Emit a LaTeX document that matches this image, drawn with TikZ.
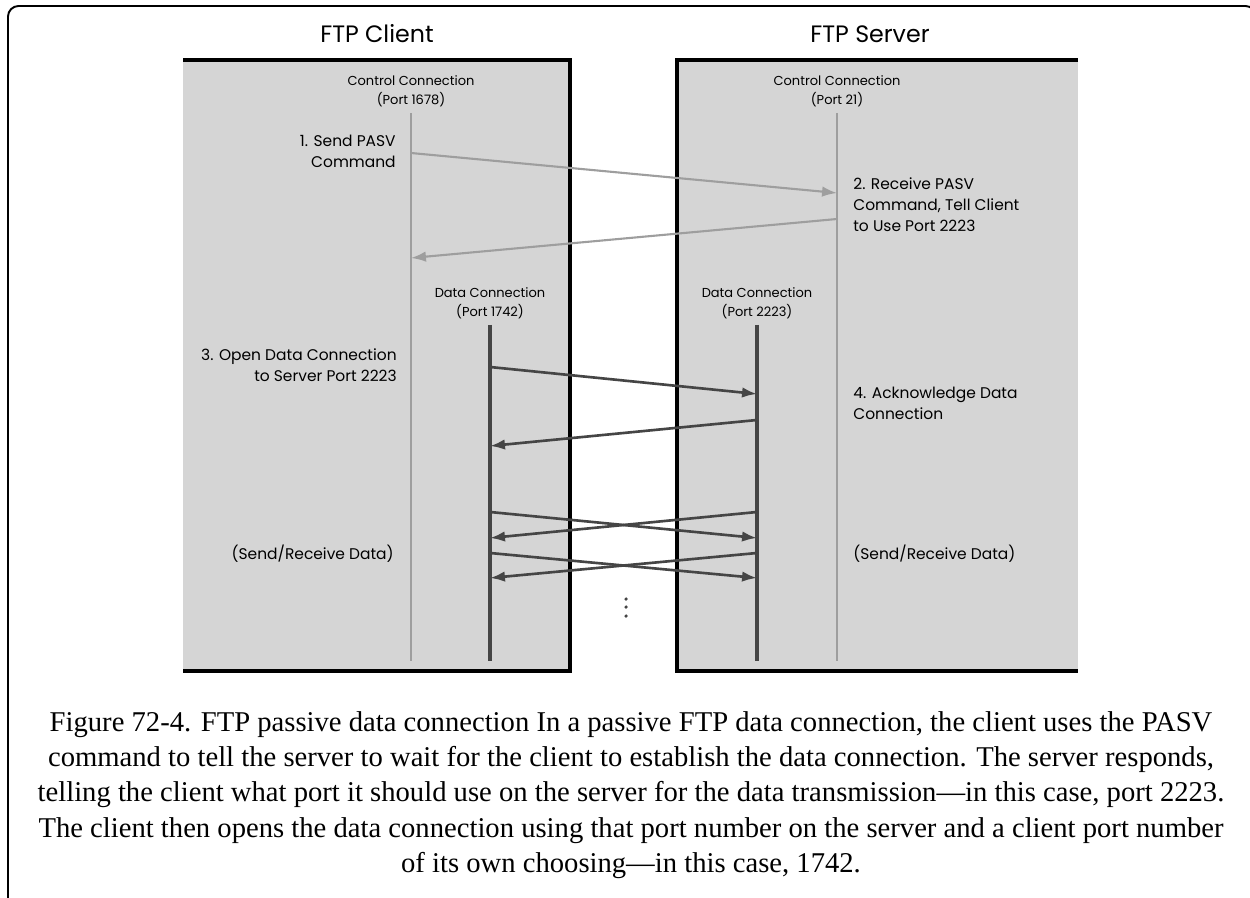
\documentclass[tikz,border=0pt]{standalone}
\usepackage{fontspec}
\setmainfont{Liberation Serif}
\newfontfamily\figfont{Poppins}
\usepackage{xcolor}
\definecolor{cBox}{HTML}{D5D5D5}
\definecolor{cCtrl}{HTML}{9E9E9E}
\definecolor{cData}{HTML}{454545}
\usetikzlibrary{positioning,arrows.meta}
\tikzset{
  side-box/.style={fill=cBox,draw=none},
  box-edge/.style={line width=2.3pt,draw=black},
  life-ctrl/.style={line width=1.4pt,draw=cCtrl},
  life-data/.style={line width=2pt,draw=cData},
  msg-ctrl/.style={-{Latex[length=8.5pt,width=6pt]},line width=1.2pt,draw=cCtrl},
  msg-data/.style={-{Latex[length=8.5pt,width=6pt]},line width=1.5pt,draw=cData},
  side-title/.style={font=\figfont\fontsize{13.5}{15}\selectfont,inner sep=0pt},
  port-lbl/.style={font=\figfont\fontsize{7.4}{11.3}\selectfont,align=center,inner sep=0pt},
  step-lbl/.style={font=\figfont\fontsize{8.8}{12}\selectfont,inner sep=0pt},
  fig-caption/.style={font=\fontsize{16.3}{20.1}\selectfont,align=center,inner sep=0pt},
}

\begin{document}
\begin{tikzpicture}[x=0.02cm,y=-0.02cm]
  \useasboundingbox (0,0) rectangle (1250,898);
  \clip (0,0) rectangle (1250,898);
  % outer frame
  \draw[line width=1.1pt,rounded corners=6pt] (8,920) |- (1256,6) -- (1256,40);
  % client and server boxes
  \fill[side-box] (183,60) rectangle (570,671);
  \draw[box-edge] (183,60) -| (570,671) -- (183,671);
  \fill[side-box] (677,60) rectangle (1078,671);
  \draw[box-edge] (1078,60) -| (677,671) -- (1078,671);
  \node[side-title] (client) at (377,34) {FTP Client};
  \node[side-title] (server) at (870,34) {FTP Server};
  % lifelines
  \coordinate (cc-top) at (411,113);
  \coordinate (cc-bot) at (411,661);
  \coordinate (sc-top) at (837,113);
  \coordinate (sc-bot) at (837,661);
  \coordinate (cd-top) at (490,325);
  \coordinate (cd-bot) at (490,661);
  \coordinate (sd-top) at (757,325);
  \coordinate (sd-bot) at (757,661);
  \draw[life-ctrl] (cc-top) -- (cc-bot);
  \draw[life-ctrl] (sc-top) -- (sc-bot);
  \draw[life-data] (cd-top) -- (cd-bot);
  \draw[life-data] (sd-top) -- (sd-bot);
  \node[port-lbl,above=3pt of cc-top] (cc-lbl) {Control Connection\\(Port 1678)};
  \node[port-lbl,above=3pt of sc-top] (sc-lbl) {Control Connection\\(Port 21)};
  \node[port-lbl,above=3pt of cd-top] (cd-lbl) {Data Connection\\(Port 1742)};
  \node[port-lbl,above=3pt of sd-top] (sd-lbl) {Data Connection\\(Port 2223)};
  % message end points
  \coordinate (pasv-out) at (cc-top |- 0,153);
  \coordinate (pasv-in)  at (sc-top |- 0,193);
  \coordinate (port-out) at (sc-top |- 0,219);
  \coordinate (port-in)  at (cc-top |- 0,258);
  \coordinate (open-out) at (cd-top |- 0,367);
  \coordinate (open-in)  at (sd-top |- 0,394);
  \coordinate (ack-out)  at (sd-top |- 0,420);
  \coordinate (ack-in)   at (cd-top |- 0,446);
  \draw[msg-ctrl] (pasv-out) -- (pasv-in);
  \draw[msg-ctrl] (port-out) -- (port-in);
  \draw[msg-data] (open-out) -- (open-in);
  \draw[msg-data] (ack-out) -- (ack-in);
  \foreach \k/\ya/\yb in {a/512/538,b/553/578} {
    \coordinate (cs-\k) at (cd-top |- 0,\ya);
    \coordinate (ce-\k) at (sd-top |- 0,\yb);
    \coordinate (ss-\k) at (sd-top |- 0,\ya);
    \coordinate (se-\k) at (cd-top |- 0,\yb);
    \draw[msg-data] (cs-\k) -- (ce-\k);
    \draw[msg-data] (ss-\k) -- (se-\k);
  }
  \foreach \y in {599,607,616}
    \fill[cData] (626,\y) circle (1pt);
  % step labels
  \node[step-lbl,anchor=north east,align=right] (step1) at (396,135) {1. Send PASV\\Command};
  \node[step-lbl,anchor=north west,align=left] (step2) at (853,177) {2. Receive PASV\\Command, Tell Client\\to Use Port 2223};
  \node[step-lbl,anchor=north east,align=right] (step3) at (397,348) {3. Open Data Connection\\to Server Port 2223};
  \node[step-lbl,anchor=north west,align=left] (step4) at (853,387) {4. Acknowledge Data\\Connection};
  \node[step-lbl,anchor=east] (xfer-c) at (394,554) {(Send/Receive Data)};
  \node[step-lbl,anchor=west] (xfer-s) at (853,554) {(Send/Receive Data)};
  % caption
  \node[fig-caption] (caption) at (631,795) {Figure 72-4. FTP passive data connection In a passive FTP data connection, the client uses the PASV\\
    command to tell the server to wait for the client to establish the data connection. The server responds,\\
    telling the client what port it should use on the server for the data transmission—in this case, port 2223.\\
    The client then opens the data connection using that port number on the server and a client port number\\
    of its own choosing—in this case, 1742.};
\end{tikzpicture}
\end{document}
